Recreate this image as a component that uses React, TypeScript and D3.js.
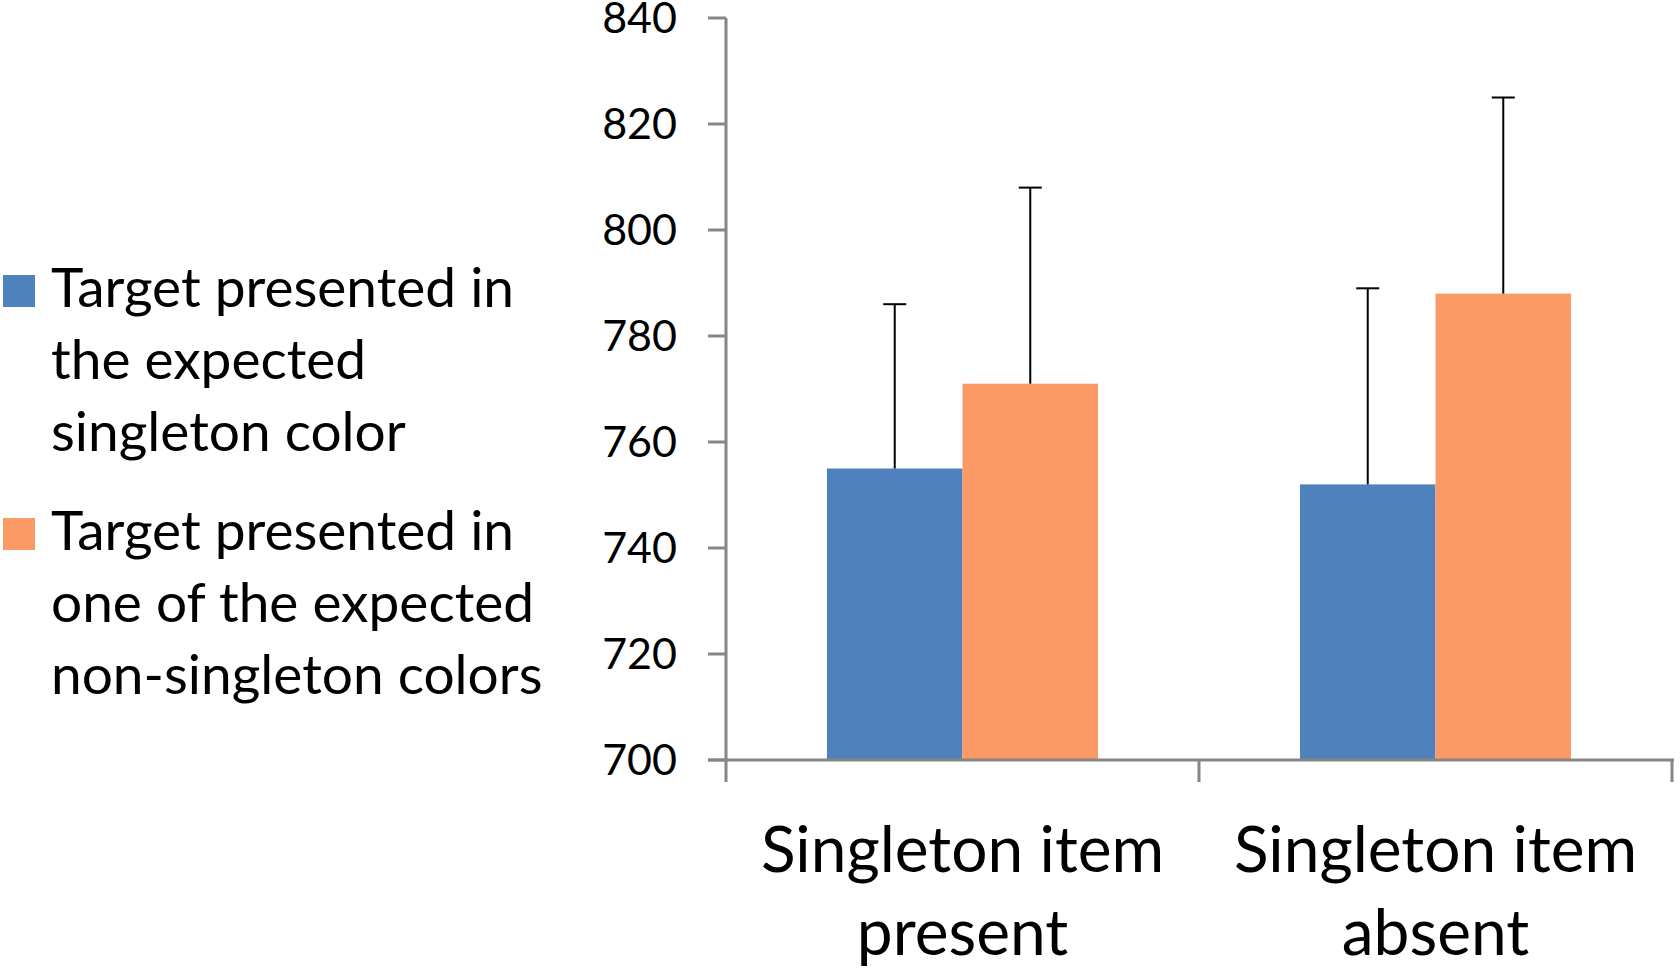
import React from "react";
import * as d3 from "d3";

const categories = ["Singleton item present", "Singleton item absent"];
const categoryLines = [["Singleton item", "present"], ["Singleton item", "absent"]];
const seriesNames = [
  "Target presented in the expected singleton color",
  "Target presented in one of the expected non-singleton colors",
];
const legendLines = [
  ["Target presented in", "the expected", "singleton color"],
  ["Target presented in", "one of the expected", "non-singleton colors"],
];
const singletonColorValues = [755, 752];
const nonSingletonColorValues = [771, 788];
const singletonColorErrors = [31, 37];
const nonSingletonColorErrors = [37, 37];
const yTicks = [700, 720, 740, 760, 780, 800, 820, 840];
const colors = ["#4F81BD", "#FC9A66"];

const W = 1680;
const H = 970;
const FONT = "Lato, 'Open Sans', sans-serif";

export default function App() {
  const y = d3.scaleLinear().domain([700, 840]).range([760, 18]);
  const x0 = d3.scaleBand<string>().domain(categories).range([726, 1672]).paddingInner(0).paddingOuter(0);
  const x1 = d3
    .scaleBand<string>()
    .domain(seriesNames)
    .range([0, x0.bandwidth()])
    .paddingInner(0)
    .paddingOuter(0.745);
  const values = [singletonColorValues, nonSingletonColorValues];
  const errors = [singletonColorErrors, nonSingletonColorErrors];
  const axisColor = "#868686";
  const y0 = y(700);
  const xLeft = x0.range()[0];
  const xRight = x0.range()[1];
  const catBoundaries = [xLeft, ...categories.map((c) => (x0(c) as number) + x0.bandwidth())];

  return (
    <svg
      width={W}
      height={H}
      style={{ position: "absolute", left: 0, top: 0, background: "#fff" }}
      fontFamily={FONT}
    >
      {/* bars */}
      {categories.map((c, ci) =>
        seriesNames.map((s, si) => {
          const bx = (x0(c) as number) + (x1(s) as number);
          const v = values[si][ci];
          return (
            <rect
              key={c + s}
              x={bx}
              y={y(v)}
              width={x1.bandwidth()}
              height={y0 - y(v)}
              fill={colors[si]}
            />
          );
        })
      )}
      {/* error bars */}
      {categories.map((c, ci) =>
        seriesNames.map((s, si) => {
          const cx = (x0(c) as number) + (x1(s) as number) + x1.bandwidth() / 2;
          const v = values[si][ci];
          const e = errors[si][ci];
          return (
            <g key={"e" + c + s} stroke="#000" strokeWidth={2}>
              <line x1={cx} x2={cx} y1={y(v)} y2={y(v + e)} />
              <line x1={cx - 11.5} x2={cx + 11.5} y1={y(v + e)} y2={y(v + e)} />
            </g>
          );
        })
      )}
      {/* y axis */}
      <line x1={xLeft} x2={xLeft} y1={y(840)} y2={y0} stroke={axisColor} strokeWidth={3} />
      {yTicks.map((t) => (
        <g key={t}>
          <line x1={xLeft - 18} x2={xLeft} y1={y(t)} y2={y(t)} stroke={axisColor} strokeWidth={3} />
          <text
            x={677}
            y={y(t)}
            dy="0.36em"
            textAnchor="end"
            fontSize={43}
            fill="#000"
          >
            {t}
          </text>
        </g>
      ))}
      {/* x axis */}
      <line x1={xLeft - 18} x2={xRight + 2} y1={y0} y2={y0} stroke={axisColor} strokeWidth={3} />
      {catBoundaries.map((bx, i) => (
        <line key={i} x1={bx} x2={bx} y1={y0} y2={y0 + 22} stroke={axisColor} strokeWidth={3} />
      ))}
      {categories.map((c, ci) => {
        const cx = (x0(c) as number) + x0.bandwidth() / 2;
        return (
          <text key={c} textAnchor="middle" fontSize={64} fill="#000">
            {categoryLines[ci].map((ln, li) => (
              <tspan key={li} x={cx} y={872 + li * 83}>
                {ln}
              </tspan>
            ))}
          </text>
        );
      })}
      {/* legend */}
      {seriesNames.map((s, si) => {
        const base = [307, 550][si];
        return (
          <g key={s}>
            <rect x={3} y={base - 32} width={32} height={32} fill={colors[si]} />
            <text fontSize={55} fill="#000">
              {legendLines[si].map((ln, li) => (
                <tspan key={li} x={51} y={base + li * 72}>
                  {ln}
                </tspan>
              ))}
            </text>
          </g>
        );
      })}
    </svg>
  );
}
